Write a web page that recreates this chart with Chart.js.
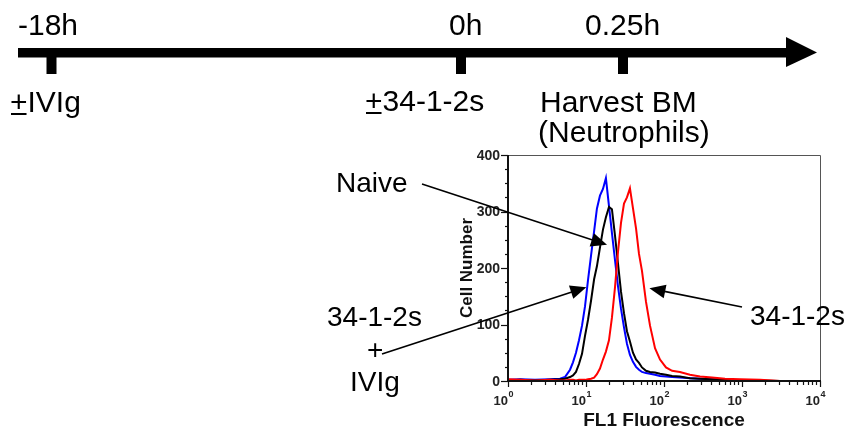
<!DOCTYPE html>
<html>
<head>
<meta charset="utf-8">
<script src="https://cdn.jsdelivr.net/npm/chart.js@4"></script>
<style>
  body { margin: 0; background: #fff; }
  #wrap { width: 847px; height: 429px; }
</style>
</head>
<body>
<div id="wrap"><canvas id="chartHisto" width="847" height="429"></canvas></div>
<script>
// FL1 channel values (shared by the three histograms)
const fluorescence = [1.0, 1.43, 2.22, 3.45, 4.64, 5.38, 6.24, 6.81, 7.44, 8.13, 8.89, 9.71,
    10.6, 11.6, 12.7, 13.8, 15.1, 16.5, 18.0, 19.7, 21.5, 23.5, 25.7, 28.1, 30.7, 33.5, 36.6,
    40.0, 43.8, 47.8, 52.2, 58.8, 66.2, 76.7, 88.9, 106, 127, 160, 215, 290, 412, 606, 943,
    1702, 3070, 5546, 10000];

// cell counts
const countIvig = [2, 3, 2, 3, 4, 7, 20, 33, 50, 72, 98, 132, 178, 222, 265, 305, 328, 340, 359,
    310, 262, 215, 168, 128, 95, 66, 46, 34, 25, 20, 16, 14, 13, 11, 9, 8, 7, 6, 5, 4, 3, 2, 1, 0, 0, 0, 0];
const countNaive = [1, 2, 1, 2, 3, 4, 7, 10, 16, 30, 48, 80, 108, 142, 180, 203, 236, 268, 290,
    308, 304, 258, 208, 158, 120, 88, 70, 50, 38, 32, 24, 18, 16, 15, 13, 11, 9, 8, 5, 4, 3, 2, 1, 1, 0, 0, 0];
const countAb = [3, 2, 1, 2, 1, 1, 2, 2, 1, 2, 2, 2, 3, 4, 6, 12, 22, 38, 52,
    72, 112, 165, 228, 280, 314, 325, 341, 306, 270, 225, 195, 140, 98, 58, 38, 24, 18, 16, 11, 8, 6, 4, 3, 2, 0, 0, 0];

const yTicks = [0, 100, 200, 300, 400];
const xDecades = [0, 1, 2, 3, 4];

const FONT = "'Liberation Sans', Arial, sans-serif";

function points(counts) {
    return fluorescence.map((f, i) => ({ x: f, y: counts[i] }));
}

// arrow tips in data coordinates
const arrows = [
    { from: [422, 184], tip: { x: 18.6, y: 241 } },   // Naive
    { from: [382, 354], tip: { x: 10.1, y: 166 } },   // 34-1-2s + IVIg
    { from: [742, 307], tip: { x: 65, y: 164 } }      // 34-1-2s
];

function drawArrow(ctx, x0, y0, x1, y1) {
    const ang = Math.atan2(y1 - y0, x1 - x0);
    const len = 16, half = 7;
    ctx.beginPath();
    ctx.moveTo(x0, y0);
    ctx.lineTo(x1 - Math.cos(ang) * len * 0.8, y1 - Math.sin(ang) * len * 0.8);
    ctx.lineWidth = 1.6;
    ctx.strokeStyle = '#000';
    ctx.stroke();
    ctx.beginPath();
    ctx.moveTo(x1, y1);
    ctx.lineTo(x1 - Math.cos(ang) * len - Math.sin(ang) * half, y1 - Math.sin(ang) * len + Math.cos(ang) * half);
    ctx.lineTo(x1 - Math.cos(ang) * len + Math.sin(ang) * half, y1 - Math.sin(ang) * len - Math.cos(ang) * half);
    ctx.closePath();
    ctx.fillStyle = '#000';
    ctx.fill();
}

function plusUnderlined(ctx, x, y) {
    ctx.fillText('+', x, y);
    const w = ctx.measureText('+').width;
    ctx.fillRect(x + 1, y + 1, w - 2, 2);
    return w;
}

const decorPlugin = {
    id: 'decor',
    afterDraw(chart) {
        const ctx = chart.ctx;
        const xs = chart.scales.x, ys = chart.scales.y;
        const a = chart.chartArea;
        ctx.save();

        // frame
        ctx.strokeStyle = '#555';
        ctx.lineWidth = 1;
        ctx.beginPath();
        ctx.moveTo(a.left, a.top + 0.5);
        ctx.lineTo(a.right + 0.5, a.top + 0.5);
        ctx.lineTo(a.right + 0.5, a.bottom);
        ctx.stroke();
        ctx.strokeStyle = '#111';
        ctx.lineWidth = 2;
        ctx.beginPath();
        ctx.moveTo(a.left, a.top);
        ctx.lineTo(a.left, a.bottom);
        ctx.lineTo(a.right + 1, a.bottom);
        ctx.stroke();

        // y ticks
        ctx.lineWidth = 1.2;
        for (let v = 0; v <= 400; v += 25) {
            const py = Math.round(ys.getPixelForValue(v)) + 0.5;
            const len = v % 100 === 0 ? 7 : 3;
            ctx.beginPath();
            ctx.moveTo(a.left - len, py);
            ctx.lineTo(a.left, py);
            ctx.stroke();
        }
        ctx.fillStyle = '#222';
        ctx.font = 'bold 14px ' + FONT;
        ctx.textAlign = 'right';
        ctx.textBaseline = 'middle';
        yTicks.forEach(v => ctx.fillText(String(v), a.left - 8, ys.getPixelForValue(v) + 1));

        // x ticks (log)
        xDecades.forEach(d => {
            for (let m = 1; m <= 9; m++) {
                if (d === 4 && m > 1) break;
                const px = Math.round(xs.getPixelForValue(m * Math.pow(10, d))) + 0.5;
                const len = m === 1 ? 6 : 4;
                ctx.beginPath();
                ctx.moveTo(px, a.bottom);
                ctx.lineTo(px, a.bottom + len);
                ctx.stroke();
            }
        });
        ctx.textBaseline = 'alphabetic';
        xDecades.forEach(d => {
            const px = xs.getPixelForValue(Math.pow(10, d));
            ctx.font = 'bold 13px ' + FONT;
            ctx.textAlign = 'right';
            ctx.fillText('10', px, 405);
            ctx.font = 'bold 9px ' + FONT;
            ctx.textAlign = 'left';
            ctx.fillText(String(d), px + 0.5, 397);
        });

        // axis titles
        ctx.fillStyle = '#111';
        ctx.font = 'bold 19px ' + FONT;
        ctx.textAlign = 'center';
        ctx.fillText('FL1 Fluorescence', (a.left + a.right) / 2, 426);
        ctx.save();
        ctx.translate(472, 268);
        ctx.rotate(-Math.PI / 2);
        ctx.font = 'bold 17px ' + FONT;
        ctx.fillText('Cell Number', 0, 0);
        ctx.restore();

        // timeline
        ctx.fillStyle = '#000';
        ctx.fillRect(18, 48, 770, 9.5);
        ctx.beginPath();
        ctx.moveTo(786, 37);
        ctx.lineTo(817, 52.5);
        ctx.lineTo(786, 67);
        ctx.closePath();
        ctx.fill();
        [51.5, 461, 623].forEach(cx => ctx.fillRect(cx - 5, 56, 10, 18));

        ctx.textAlign = 'left';
        ctx.font = '30px ' + FONT;
        ctx.fillText('-18h', 18, 35);
        ctx.fillText('0h', 449, 35);
        ctx.fillText('0.25h', 585, 35);

        let w = plusUnderlined(ctx, 10, 112);
        ctx.fillText('IVIg', 10 + w, 112);
        w = plusUnderlined(ctx, 365, 111);
        ctx.fillText('34-1-2s', 365 + w, 111);
        ctx.fillText('Harvest BM', 540, 112);
        ctx.fillText('(Neutrophils)', 538, 142);

        // annotations
        ctx.font = '28px ' + FONT;
        ctx.fillText('Naive', 336, 192);
        ctx.fillText('34-1-2s', 327, 326);
        ctx.fillText('+', 367, 359);
        ctx.fillText('IVIg', 350, 391);
        ctx.fillText('34-1-2s', 750, 325);

        arrows.forEach(ar => {
            drawArrow(ctx, ar.from[0], ar.from[1], xs.getPixelForValue(ar.tip.x), ys.getPixelForValue(ar.tip.y));
        });

        ctx.restore();
    }
};

const ctx = document.getElementById('chartHisto').getContext('2d');
new Chart(ctx, {
    type: 'line',
    data: {
        datasets: [
            { label: '34-1-2s', data: points(countAb), borderColor: '#ff0000' },
            { label: 'Naive', data: points(countNaive), borderColor: '#000000' },
            { label: '34-1-2s + IVIg', data: points(countIvig), borderColor: '#0000ff' }
        ].map(ds => Object.assign(ds, { borderWidth: 2, pointRadius: 0, tension: 0, fill: false }))
    },
    options: {
        responsive: false,
        animation: false,
        devicePixelRatio: 1,
        layout: { padding: { left: 508, top: 155, right: 27, bottom: 48 } },
        scales: {
            x: { type: 'logarithmic', min: 1, max: 10000, display: false },
            y: { type: 'linear', min: 0, max: 400, display: false }
        },
        plugins: {
            legend: { display: false },
            title: { display: false },
            tooltip: { enabled: false }
        }
    },
    plugins: [decorPlugin]
});
</script>
</body>
</html>
